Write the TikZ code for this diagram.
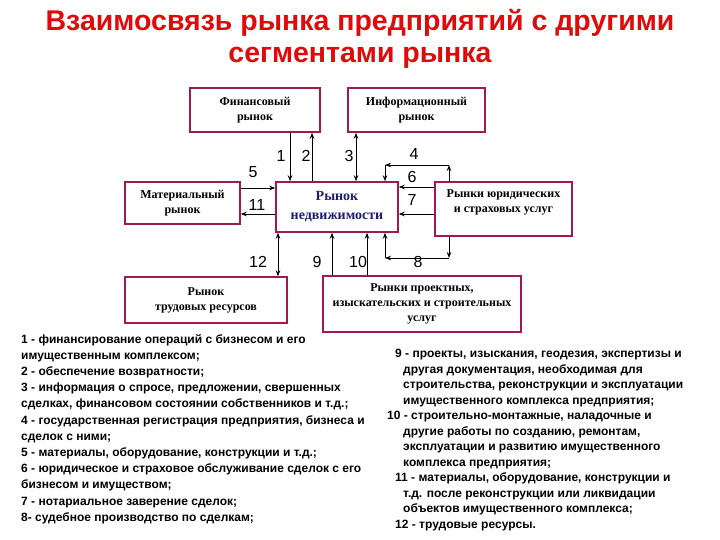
\documentclass[tikz,border=0pt]{standalone}
\usepackage{fontspec}
\setmainfont{Liberation Serif}
\setsansfont{Liberation Sans}
\usetikzlibrary{arrows.meta}
\definecolor{boxred}{RGB}{160,25,85}
\definecolor{titlered}{RGB}{225,10,10}
\definecolor{navy}{RGB}{30,30,110}
\tikzset{
	box/.style = {
		draw = boxred,
		fill = white,
		rectangle,
		line width = 1.5pt,
		text centered,
		align = center,
		inner sep = 2pt,
		font = \fontsize{12}{15}\selectfont\bfseries
	},
	num/.style = {
		font = \sffamily\fontsize{16}{16}\selectfont
	},
	legend/.style = {
		anchor = north west,
		inner sep = 0pt,
		align = left,
		font = \sffamily\bfseries\fontsize{12}{16.2}\selectfont
	},
	link/.style = {
		-{Stealth[length=6pt,width=4.5pt]},
		line width = 0.8pt
	}
}

\begin{document}
\begin{tikzpicture}[x=1pt, y=-1pt]
    \useasboundingbox (0,0) rectangle (720,540) ;

    \node [text=titlered, align=center, font=\sffamily\bfseries\fontsize{28.5}{32}\selectfont] (title) at (360,39)
        {Взаимосвязь рынка предприятий с другими\\сегментами рынка} ;

    \node [box, minimum width=130pt, minimum height=44pt] (fin) at (255,110) {Финансовый\\рынок} ;
    \node [box, minimum width=137pt, minimum height=44pt] (info) at (416.5,110) {Информационный\\рынок} ;
    \node [box, minimum width=115pt, minimum height=42pt] (mat) at (182.5,203) {Материальный\\рынок} ;
    \node [box, minimum width=122pt, minimum height=50pt, text=navy, font=\fontsize{14}{19}\selectfont\bfseries] (realty) at (337,207) {Рынок\\недвижимости} ;
    \node [box, minimum width=137pt, minimum height=54pt] (legal) at (503.5,209) {Рынки юридических\\и страховых услуг\\ \mbox{}} ;
    \node [box, minimum width=162pt, minimum height=46pt] (labor) at (206,300) {Рынок\\трудовых ресурсов} ;
    \node [box, minimum width=198pt, minimum height=56pt] (proj) at (422,304) {Рынки проектных,\\изыскательских  и строительных\\услуг} ;

    \coordinate (c4r) at (449,165) ;
    \coordinate (c4l) at (385,165) ;
    \coordinate (c8r) at (449,258) ;
    \coordinate (c8l) at (385,258) ;

    \draw [link] (fin.south -| 290,0) -- (290,0 |- realty.north) ;
    \draw [link] (312,0 |- realty.north) -- (fin.south -| 312,0) ;
    \draw [link, {Stealth[length=6pt,width=4.5pt]}-{Stealth[length=6pt,width=4.5pt]}] (info.south -| 356,0) -- (356,0 |- realty.north) ;
    \draw [link] (legal.north -| c4r) -- (c4r) ;
    \draw [link] (c4r) -- (c4l) ;
    \draw [link] (c4l) -- (realty.north -| c4l) ;
    \draw [link] (mat.east |- 0,188) -- (realty.west |- 0,188) ;
    \draw [link] (realty.west |- 0,214) -- (mat.east |- 0,214) ;
    \draw [link] (legal.west |- 0,187) -- (realty.east |- 0,187) ;
    \draw [link] (legal.west |- 0,214) -- (realty.east |- 0,214) ;
    \draw [link, {Stealth[length=6pt,width=4.5pt]}-{Stealth[length=6pt,width=4.5pt]}] (realty.south -| 278,0) -- (278,0 |- labor.north) ;
    \draw [link] (proj.north -| 332,0) -- (332,0 |- realty.south) ;
    \draw [link] (proj.north -| 367,0) -- (367,0 |- realty.south) ;
    \draw [link] (legal.south -| c8r) -- (c8r) ;
    \draw [link] (c8r) -- (c8l) ;
    \draw [link] (c8l) -- (realty.south -| c8l) ;

    \node [num] (n1) at (281,156) {1} ;
    \node [num] (n2) at (306,156) {2} ;
    \node [num] (n3) at (349,156) {3} ;
    \node [num] (n4) at (414,154) {4} ;
    \node [num] (n5) at (253,172) {5} ;
    \node [num] (n6) at (412,177) {6} ;
    \node [num] (n7) at (412,200) {7} ;
    \node [num] (n11) at (257,205) {11} ;
    \node [num] (n12) at (258,262) {12} ;
    \node [num] (n9) at (317,262) {9} ;
    \node [num] (n10) at (358,262) {10} ;
    \node [num] (n8) at (418,262) {8} ;

    \node [legend] (leftnotes) at (21,334) {%
        1 - финансирование операций с бизнесом и его\\
        имущественным комплексом;\\
        2 - обеспечение возвратности;\\
        3 - информация о спросе, предложении, свершенных\\
        сделках, финансовом состоянии собственников и т.д.;\\
        4 - государственная регистрация предприятия, бизнеса и\\
        сделок с ними;\\
        5 - материалы, оборудование, конструкции и т.д.;\\
        6 - юридическое  и страховое обслуживание  сделок с его\\
        бизнесом и имуществом;\\
        7 - нотариальное заверение сделок;\\
        8- судебное производство по сделкам;} ;
    \node [legend, font=\sffamily\bfseries\fontsize{12}{15.5}\selectfont] (rightnotes) at (387,349) {%
        \hspace*{8pt}9 - проекты, изыскания, геодезия, экспертизы и\\
        \hspace*{16pt}другая документация, необходимая для\\
        \hspace*{16pt}строительства, реконструкции и эксплуатации\\
        \hspace*{16pt}имущественного комплекса предприятия;\\
        10 - строительно-монтажные, наладочные и\\
        \hspace*{16pt}другие работы по созданию, ремонтам,\\
        \hspace*{16pt}эксплуатации и развитию имущественного\\
        \hspace*{16pt}комплекса предприятия;\\
        \hspace*{8pt}11 - материалы, оборудование, конструкции и\\
        \hspace*{16pt}т.д. после реконструкции или ликвидации\\
        \hspace*{16pt}объектов имущественного комплекса;\\
        \hspace*{8pt}12 - трудовые ресурсы.} ;
\end{tikzpicture}
\end{document}
